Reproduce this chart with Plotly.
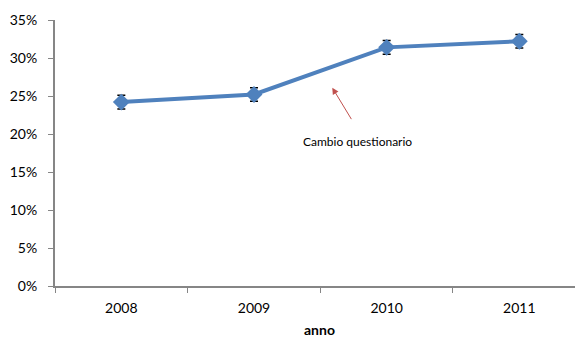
import plotly.graph_objects as go

# data
anni = ['2008', '2009', '2010', '2011']
quota = [0.242, 0.252, 0.314, 0.322]
errore = [0.009, 0.009, 0.009, 0.009]

blu = '#4F81BD'
rosso = '#C0504D'
grigio = '#868686'

fig = go.Figure()
fig.add_trace(go.Scatter(
    x=anni, y=quota,
    mode='lines+markers',
    line=dict(color=blu, width=4),
    marker=dict(symbol='diamond', size=13, color=blu),
    error_y=dict(type='data', array=errore, visible=True,
                 color='black', thickness=1.5, width=4),
    showlegend=False
))

# arrow pointing at the line, and its label
fig.add_annotation(x=1.59, y=0.261, xref='x', yref='y',
                   text='', showarrow=True, arrowhead=2, arrowsize=1.3,
                   arrowwidth=1, arrowcolor=rosso,
                   ax=20, ay=33, axref='pixel', ayref='pixel')
fig.add_annotation(x=1.78, y=0.1906, xref='x', yref='y',
                   text='Cambio questionario', showarrow=False,
                   font=dict(size=12, color='black'))
# x axis title, centred under the plot area
fig.add_annotation(x=0.5, y=0, xref='paper', yref='paper',
                   text='<b>anno</b>', showarrow=False, yanchor='middle',
                   yshift=-43, font=dict(size=14))

# page body adds 8px around the figure, so the figure is 8px smaller;
# the plot area runs off the right edge, as in the original crop
fig.update_layout(
    width=575, height=330,
    margin=dict(l=47, r=0, t=12, b=52),
    paper_bgcolor='white', plot_bgcolor='white',
    font=dict(family='Lato, Open Sans, sans-serif', size=14, color='black'),
)
fig.update_xaxes(
    type='category', range=[-0.5, 3.48], automargin=False,
    showline=True, linecolor=grigio, linewidth=2,
    ticks='outside', tickson='boundaries', ticklen=5, tickcolor=grigio,
    ticklabelstandoff=8,
    showgrid=False,
)
fig.update_yaxes(
    range=[0, 0.35], dtick=0.05, tickformat='.0%', automargin=False,
    showline=True, linecolor=grigio, linewidth=2,
    ticks='outside', ticklen=5, tickcolor=grigio,
    ticklabelstandoff=8,
    showgrid=False, zeroline=False,
)

fig.write_html('out.html')
